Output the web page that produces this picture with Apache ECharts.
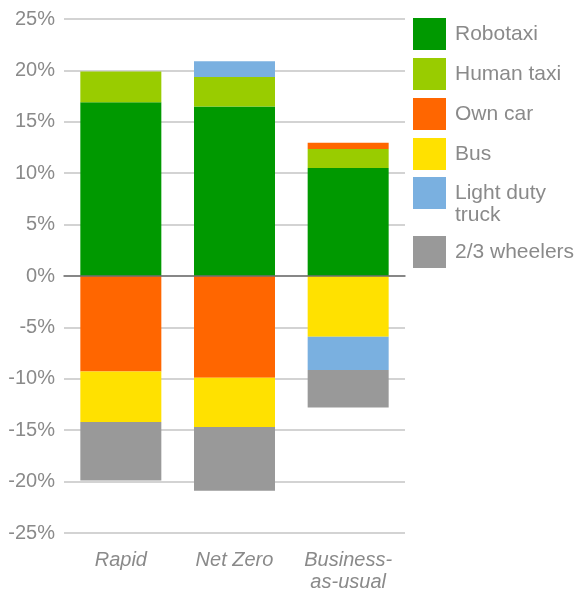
<!DOCTYPE html>
<html>
<head>
<meta charset="utf-8">
<script src="https://cdn.jsdelivr.net/npm/echarts@6/dist/echarts.min.js"></script>
<style>
  html, body { margin: 0; padding: 0; background: #fff; }
  #mode_chart { width: 586px; height: 590px; }
</style>
</head>
<body>
<div id="mode_chart"></div>
<script>
var categories = ['Rapid', 'Net Zero', 'Business-\nas-usual'];
var robotaxi = [16.9, 16.5, 10.5];
var humanTaxi = [3.0, 2.85, 1.85];
var ownCar = [-9.3, -9.9, 0.6];
var bus = [-4.9, -4.8, -5.9];
var lightTruck = [0, 1.55, -3.25];
var wheelers = [-5.7, -6.2, -3.65];
var yTicks = [-25, -20, -15, -10, -5, 0, 5, 10, 15, 20, 25];

var gray = '#8a8a8a';

function mode_chart(){
        var chart = echarts.init(document.getElementById('mode_chart'));

        function bar(name, data, color){
                return {
                        name: name,
                        type: 'bar',
                        stack: 'total',
                        barWidth: 81,
                        data: data,
                        itemStyle: { color: color }
                };
        }

        var legendText = { color: gray, fontSize: 21, fontFamily: 'Liberation Sans', lineHeight: 22, padding: [0, 0, 0, 4] };

        var option = {
                backgroundColor: '#fff',
                animation: false,
                grid: { left: 64, right: 181, top: 19, bottom: 57, containLabel: false, outerBoundsMode: 'none' },
                legend: [{
                        orient: 'vertical', left: 413, top: 18, padding: 0,
                        itemWidth: 33, itemHeight: 32, itemGap: 8,
                        icon: 'rect',
                        data: ['Robotaxi', 'Human taxi', 'Own car', 'Bus'],
                        textStyle: legendText
                }, {
                        // blank first line keeps "Light duty" level with the swatch
                        orient: 'vertical', left: 413, top: 160, padding: 0,
                        itemWidth: 33, itemHeight: 32,
                        icon: 'rect',
                        data: ['Light duty truck'],
                        formatter: function(){ return '\nLight duty\ntruck'; },
                        textStyle: legendText
                }, {
                        orient: 'vertical', left: 413, top: 236, padding: 0,
                        itemWidth: 33, itemHeight: 32,
                        icon: 'rect',
                        data: ['2/3 wheelers'],
                        textStyle: legendText
                }],
                xAxis: {
                        type: 'category',
                        data: categories,
                        z: 5,
                        axisLine: { onZero: true, lineStyle: { color: '#6f6f6f', width: 1.5 } },
                        axisTick: { show: false },
                        axisLabel: {
                                interval: 0,
                                color: gray, fontSize: 20, fontStyle: 'italic', fontFamily: 'Liberation Sans',
                                lineHeight: 22, margin: 16
                        }
                },
                yAxis: {
                        type: 'value',
                        min: yTicks[0],
                        max: yTicks[yTicks.length - 1],
                        interval: 5,
                        axisLine: { show: false },
                        axisTick: { show: false },
                        splitLine: { lineStyle: { color: '#c4c4c4', width: 1.5 } },
                        axisLabel: {
                                color: gray, fontSize: 20, fontFamily: 'Liberation Sans', margin: 9,
                                formatter: '{value}%'
                        }
                },
                series: [
                        bar('Robotaxi', robotaxi, '#009900'),
                        bar('Human taxi', humanTaxi, '#99cc00'),
                        bar('Own car', ownCar, '#ff6600'),
                        bar('Bus', bus, '#ffe100'),
                        bar('Light duty truck', lightTruck, '#7ab0e0'),
                        bar('2/3 wheelers', wheelers, '#999999')
                ]
        };
        chart.setOption(option);
}

mode_chart();
</script>
</body>
</html>
